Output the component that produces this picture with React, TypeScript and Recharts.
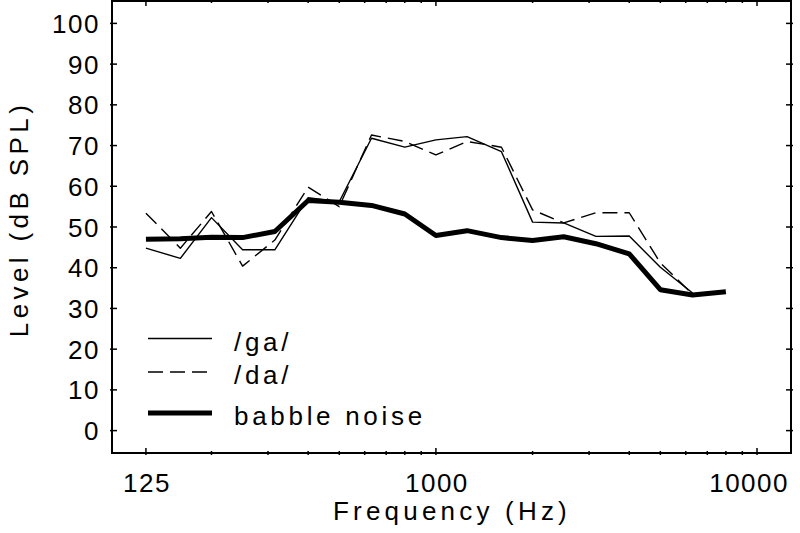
import { LineChart, Line, XAxis, YAxis } from 'recharts';

// 1/3-octave centre frequencies (Hz)
const FREQS = [125, 160, 200, 250, 315, 400, 500, 630, 800, 1000, 1250, 1600, 2000, 2500, 3150, 4000, 5000, 6300, 8000];
const GA = [44.8, 42.3, 52.3, 44.4, 44.4, 57.2, 56.2, 71.8, 69.6, 71.4, 72.2, 68.5, 51.2, 51.0, 47.7, 47.8, 40.1, 33.8];
const DA = [53.4, 44.8, 53.8, 40.4, 46.8, 59.8, 55.0, 72.6, 71.0, 67.7, 71.0, 69.6, 54.2, 51.0, 53.5, 53.5, 41.2, 33.5];
const BABBLE = [47.0, 47.1, 47.5, 47.4, 48.9, 56.5, 56.1, 55.3, 53.2, 47.9, 49.1, 47.4, 46.7, 47.6, 45.9, 43.4, 34.6, 33.3, 34.1];

const X_TICKS = [125, 200, 300, 400, 500, 600, 700, 800, 900, 1000, 2000, 3000, 4000, 5000, 6000, 7000, 8000, 9000, 10000];
const X_LABELED = [125, 1000, 10000];
const Y_TICKS = [0, 10, 20, 30, 40, 50, 60, 70, 80, 90, 100];

const SERIES = [
  { key: 'ga', label: '/ga/', width: 1.4, dash: undefined },
  { key: 'da', label: '/da/', width: 1.4, dash: '15 7' },
  { key: 'babble', label: 'babble noise', width: 5, dash: undefined },
];

const data = FREQS.map((f, i) => ({ freq: f, ga: GA[i], da: DA[i], babble: BABBLE[i] }));

const FONT = "'Liberation Sans', Arial, sans-serif";
const X_DOMAIN = [98, 12760];
const Y_DOMAIN = [-5.5, 105.5];

function BottomTick({ x, y, payload }: any) {
  const major = X_LABELED.includes(payload.value);
  const last = payload.value === 10000;
  return (
    <g>
      <line x1={x} x2={x} y1={y} y2={y - (major ? 7 : 4)} stroke="#000" strokeWidth={1.5} />
      {major && (
        <text
          x={last ? 789 : x + 1}
          y={y + 37}
          textAnchor={last ? 'end' : 'middle'}
          fontFamily={FONT}
          fontSize={26}
          letterSpacing={1.5}
          fill="#000"
        >
          {payload.value}
        </text>
      )}
    </g>
  );
}

function TopTick({ x, y, payload }: any) {
  const major = X_LABELED.includes(payload.value);
  return <line x1={x} x2={x} y1={y} y2={y + (major ? 7 : 4)} stroke="#000" strokeWidth={1.5} />;
}

function LeftTick({ x, y, payload }: any) {
  return (
    <g>
      <line x1={x} x2={x + 7} y1={y} y2={y} stroke="#000" strokeWidth={1.5} />
      <text x={x - 10} y={y + 9.5} textAnchor="end" fontFamily={FONT} fontSize={26} letterSpacing={1.5} fill="#000">
        {payload.value}
      </text>
    </g>
  );
}

function RightTick({ x, y }: any) {
  return <line x1={x} x2={x - 7} y1={y} y2={y} stroke="#000" strokeWidth={1.5} />;
}

const axisLine = { stroke: '#000', strokeWidth: 2, strokeLinecap: 'square' as const };

function LegendOverlay() {
  const rows = [
    { lineY: 338.5, textY: 351 },
    { lineY: 372, textY: 384 },
    { lineY: 413, textY: 425 },
  ];
  return (
    <svg width={800} height={533} style={{ position: 'absolute', left: 0, top: 0, pointerEvents: 'none' }}>
      {SERIES.map((s, i) => (
        <g key={s.key}>
          <line
            x1={148}
            x2={212}
            y1={rows[i].lineY}
            y2={rows[i].lineY}
            stroke="#000"
            strokeWidth={s.width}
            strokeDasharray={s.dash}
          />
          <text x={234} y={rows[i].textY} fontFamily={FONT} fontSize={26} letterSpacing={3.7} fill="#000">
            {s.label}
          </text>
        </g>
      ))}
      <text x={452} y={520} textAnchor="middle" fontFamily={FONT} fontSize={26} letterSpacing={4.2} fill="#000">
        Frequency (Hz)
      </text>
      <text transform="rotate(-90)" x={-219} y={28} textAnchor="middle" fontFamily={FONT} fontSize={26} letterSpacing={4.4} fill="#000">
        Level (dB SPL)
      </text>
    </svg>
  );
}

export default function App() {
  return (
    <div style={{ position: 'absolute', left: 0, top: 0, width: 800, height: 533, background: '#fff' }}>
      <LineChart width={800} height={533} data={data} margin={{ top: 0, right: 8, bottom: 0, left: 0 }}>
        <XAxis
          dataKey="freq"
          type="number"
          scale="log"
          domain={X_DOMAIN}
          allowDataOverflow
          ticks={X_TICKS}
          interval={0}
          height={80}
          tickSize={0}
          tickLine={false}
          axisLine={axisLine}
          tick={<BottomTick />}
        />
        <XAxis
          xAxisId="top"
          orientation="top"
          dataKey="freq"
          type="number"
          scale="log"
          domain={X_DOMAIN}
          allowDataOverflow
          ticks={X_TICKS}
          interval={0}
          height={1}
          tickSize={0}
          tickLine={false}
          axisLine={axisLine}
          tick={<TopTick />}
        />
        <YAxis
          type="number"
          domain={Y_DOMAIN}
          allowDataOverflow
          ticks={Y_TICKS}
          interval={0}
          width={112}
          tickSize={0}
          tickLine={false}
          axisLine={axisLine}
          tick={<LeftTick />}
        />
        <YAxis
          yAxisId="right"
          orientation="right"
          type="number"
          domain={Y_DOMAIN}
          allowDataOverflow
          ticks={Y_TICKS}
          interval={0}
          width={1}
          tickSize={0}
          tickLine={false}
          axisLine={axisLine}
          tick={<RightTick />}
        />
        {SERIES.map((s) => (
          <Line
            key={s.key}
            dataKey={s.key}
            stroke="#000"
            strokeWidth={s.width}
            strokeDasharray={s.dash}
            strokeLinejoin="round"
            dot={false}
            activeDot={false}
            isAnimationActive={false}
          />
        ))}
      </LineChart>
      <LegendOverlay />
    </div>
  );
}
